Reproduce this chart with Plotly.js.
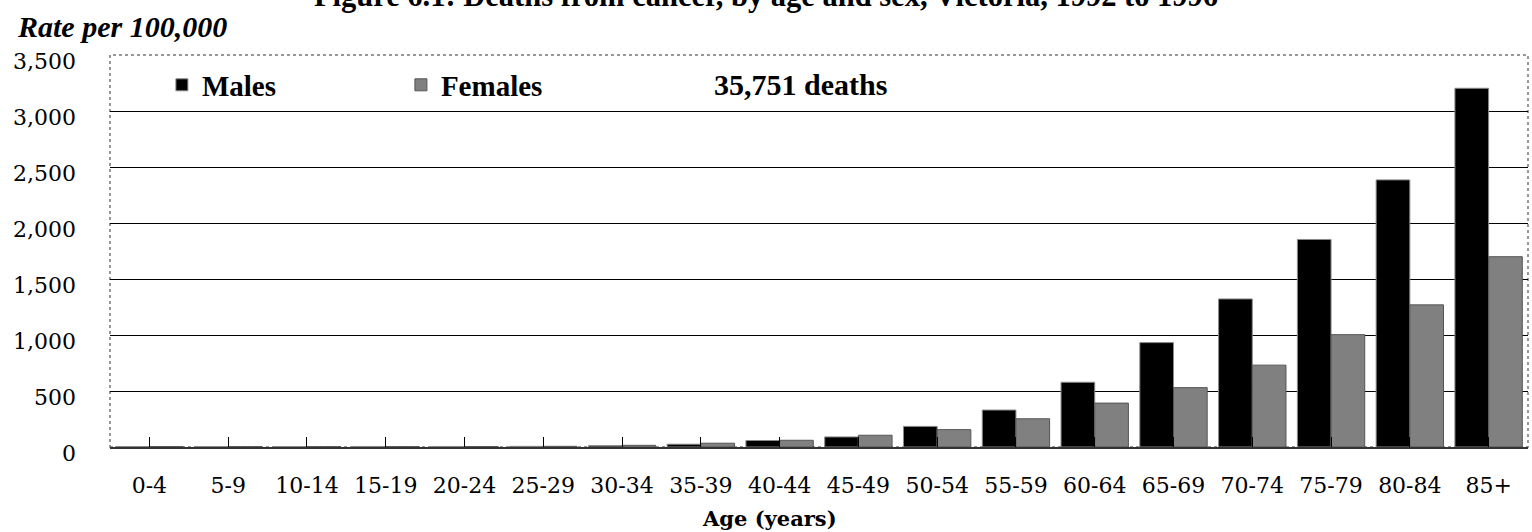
<!DOCTYPE html>
<html>
<head>
<meta charset="utf-8">
<script src="https://cdn.plot.ly/plotly-3.0.1.min.js"></script>
<style>html,body{margin:0;padding:0;background:#fff;}#chart{width:1532px;height:532px;}</style>
</head>
<body>
<div id="chart"></div>
<script>
const chartTitle = "Figure 6.1: Deaths from cancer, by age and sex, Victoria, 1992 to 1996";
const yTitle = "Rate per 100,000";
const xTitle = "Age (years)";
const noteText = "35,751 deaths";
const ageGroups = ["0-4","5-9","10-14","15-19","20-24","25-29","30-34","35-39","40-44","45-49","50-54","55-59","60-64","65-69","70-74","75-79","80-84","85+"];
const males   = [4, 4, 4, 5, 5, 6, 12, 25, 58, 90, 184, 330, 578, 932, 1322, 1853, 2385, 3203];
const females = [4, 3, 3, 3, 4, 6, 15, 34, 60, 105, 155, 252, 392, 530, 731, 1003, 1269, 1699];
const yTicks = [0, 500, 1000, 1500, 2000, 2500, 3000, 3500];
const gridTicks = [500, 1000, 1500, 2000, 2500, 3000];

const serif = "DejaVu Serif, serif";
const times = "Liberation Serif, Times New Roman, serif";

const traces = [
  {type: "bar", name: "Males", x: ageGroups, y: males,
   marker: {color: "#000000", line: {color: "#8a8a8a", width: 1}}, hoverinfo: "x+y+name"},
  {type: "bar", name: "Females", x: ageGroups, y: females,
   marker: {color: "#808080", line: {color: "#555555", width: 1}}, hoverinfo: "x+y+name"}
];

const layout = {
  width: 1532, height: 532,
  margin: {l: 110, r: 4, t: 55, b: 85, pad: 0},
  paper_bgcolor: "#ffffff", plot_bgcolor: "#ffffff",
  barmode: "group", bargap: 0.145, bargroupgap: 0,
  title: {text: chartTitle, x: 0.5, xref: "container", xanchor: "center",
          y: 0.988, yref: "container", yanchor: "bottom",
          font: {family: times, size: 30.5, color: "#000", weight: "bold"}},
  font: {family: serif, color: "#000"},
  showlegend: true,
  legend: {orientation: "h", x: 0.0366, xanchor: "left", y: 0.9236, yanchor: "middle",
           font: {family: times, size: 29, color: "#000", weight: "bold"},
           bgcolor: "rgba(0,0,0,0)", borderwidth: 0,
           entrywidth: 194, entrywidthmode: "pixels", traceorder: "normal"},
  xaxis: {type: "category", showgrid: false, zeroline: false,
          showline: true, linecolor: "#333333", linewidth: 2,
          ticks: "inside", ticklen: 10, tickwidth: 1, tickcolor: "#000",
          tickfont: {family: serif, size: 22, color: "#000"},
          ticklabelstandoff: 18, fixedrange: true},
  yaxis: {range: [0, 3500], tickvals: yTicks, tickformat: ",", showgrid: false, zeroline: false,
          showline: false, ticks: "",
          tickfont: {family: serif, size: 22, color: "#000"},
          ticklabelstandoff: 33, ticklabelshift: 6,
          minor: {tickvals: gridTicks, showgrid: true, gridcolor: "#000000", gridwidth: 1, ticks: ""},
          fixedrange: true},
  shapes: [
    {type: "rect", xref: "paper", yref: "paper", x0: 0, x1: 1, y0: 0, y1: 1,
     line: {color: "#777777", width: 1.5, dash: "dot"}, fillcolor: "rgba(0,0,0,0)", layer: "below"}
  ],
  annotations: [
    {text: yTitle, xref: "paper", yref: "paper", x: -0.0669, y: 1.072, xanchor: "left", yanchor: "middle",
     showarrow: false, font: {family: times, size: 30, color: "#000", weight: "bold", style: "italic"}},
    {text: xTitle, xref: "paper", yref: "paper", x: 0.4648, y: -0.183, xanchor: "center", yanchor: "middle",
     showarrow: false, font: {family: serif, size: 21, color: "#000", weight: "bold"}},
    {text: noteText, xref: "paper", yref: "paper", x: 0.4873, y: 0.9236, xanchor: "center", yanchor: "middle",
     showarrow: false, font: {family: times, size: 30, color: "#000", weight: "bold"}}
  ]
};

Plotly.newPlot("chart", traces, layout, {displayModeBar: false, staticPlot: true});
</script>
</body>
</html>
